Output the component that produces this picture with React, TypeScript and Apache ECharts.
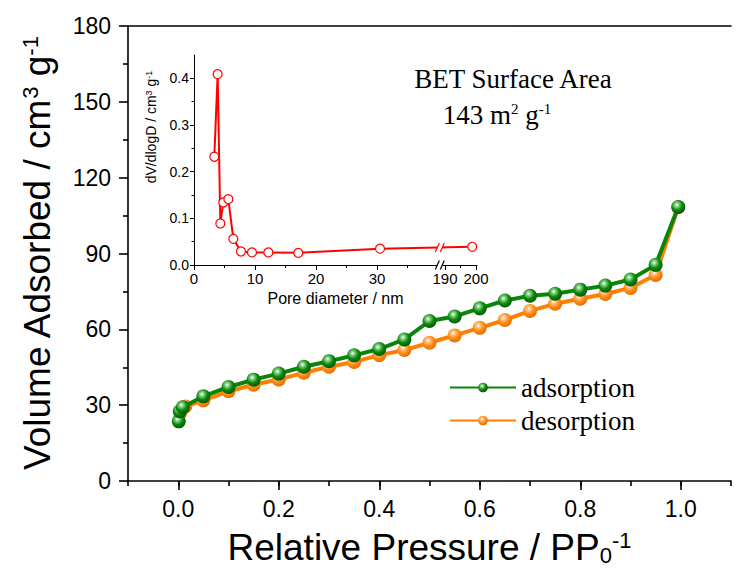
import React, { useEffect, useRef } from "react";
import * as echarts from "echarts";

// ---- main isotherm data ----
const adsX = [0.001, 0.003, 0.009, 0.05, 0.1, 0.15, 0.2, 0.25, 0.3, 0.35, 0.4, 0.45, 0.5, 0.55, 0.6, 0.65, 0.7, 0.75, 0.8, 0.85, 0.9, 0.95, 0.995];
const adsY = [23.6, 27.6, 29.2, 33.5, 37.2, 40.1, 42.5, 45.2, 47.4, 49.7, 52.2, 56.0, 63.3, 65.1, 68.3, 71.4, 73.3, 74.1, 75.7, 77.3, 79.7, 85.5, 108.4];
const desX = [0.995, 0.95, 0.9, 0.85, 0.8, 0.75, 0.7, 0.65, 0.6, 0.55, 0.5, 0.45, 0.4, 0.35, 0.3, 0.25, 0.2, 0.15, 0.1, 0.05, 0.014, 0.004];
const desY = [108.4, 81.5, 76.4, 74.0, 72.1, 70.1, 67.3, 63.7, 60.6, 57.6, 54.7, 51.8, 49.8, 47.1, 45.2, 42.8, 40.2, 38.1, 35.5, 31.9, 29.5, 27.0];

const xMajorTicks = [0, 0.2, 0.4, 0.6, 0.8, 1.0];

// ---- inset pore size distribution ----
const poreD = [3.33, 3.88, 4.32, 4.81, 5.63, 6.45, 7.7, 9.5, 12.2, 17.1, 30.5, 198.8];
const dvdlogd = [0.232, 0.409, 0.089, 0.134, 0.141, 0.056, 0.029, 0.027, 0.027, 0.026, 0.035, 0.039];
const insetXLabels = [0, 10, 20, 30, 190, 200];
const insetXMinor = [5, 15, 25, 35, 195];
const insetYLabels = [0, 0.1, 0.2, 0.3, 0.4];
const insetYMinor = [0.05, 0.15, 0.25, 0.35];

// broken axis: 0..40 linear, then 190..200 compressed
const SEG2_START = 41.15;
const SEG2_SLOPE = 0.508;
const BREAK_U = 40.3;
const U_MAX = 46.4;
const toU = (d: number) => (d <= 40 ? d : SEG2_START + (d - 190) * SEG2_SLOPE);
const fromU = (u: number) => (u <= 40 ? u : 190 + (u - SEG2_START) / SEG2_SLOPE);

const SANS = "'Liberation Sans', Arial, sans-serif";
const SERIF = "'Liberation Serif', 'Times New Roman', serif";

const sphere = (light: string, mid: string, dark: string) => ({
  type: "radial",
  x: 0.4,
  y: 0.35,
  r: 0.7,
  colorStops: [
    { offset: 0, color: "#ffffff" },
    { offset: 0.22, color: light },
    { offset: 0.55, color: mid },
    { offset: 1, color: dark },
  ],
});

export default function App() {
  const ref = useRef<HTMLDivElement>(null);
  useEffect(() => {
    if (!ref.current) return;
    const chart = echarts.init(ref.current, null, { renderer: "svg" });
    const insetData = poreD.map((d, i) => [toU(d), dvdlogd[i]]);
    const axisLineStyle = { color: "#000", width: 1.6 };
    const thin = { color: "#000", width: 1 };
    const option: any = {
      animation: false,
      backgroundColor: "#fff",
      grid: [
        { left: 128, right: 4, top: 26, bottom: 94 },
        { left: 128, right: 4, top: 26, bottom: 94 },
        { left: 194, right: 258, top: 55, bottom: 310 },
        { left: 194, right: 258, top: 55, bottom: 310 },
      ],
      legend: {
        data: ["adsorption", "desorption"],
        orient: "vertical",
        left: 444,
        top: 369,
        itemWidth: 66,
        itemHeight: 12,
        itemGap: 6,
        textStyle: { fontFamily: SERIF, fontSize: 27, color: "#000" },
      },
      xAxis: [
        {
          gridIndex: 0,
          type: "value",
          min: -0.1,
          max: 1.1,
          position: "bottom",
          splitLine: { show: false },
          axisLine: { onZero: false, lineStyle: axisLineStyle },
          axisTick: { customValues: xMajorTicks, length: 9, lineStyle: axisLineStyle },
          axisLabel: {
            customValues: xMajorTicks,
            formatter: (v: number) => v.toFixed(1),
            fontFamily: SANS,
            fontSize: 23,
            color: "#000",
            margin: 16,
          },
          name: "Relative Pressure / PP{sub|0}{sup|-1}",
          nameLocation: "middle",
          nameGap: 48,
          nameTextStyle: {
            fontFamily: SANS,
            fontSize: 37,
            color: "#000",
            rich: {
              sub: { fontFamily: SANS, fontSize: 22, verticalAlign: "bottom", color: "#000" },
              sup: { fontFamily: SANS, fontSize: 22, verticalAlign: "top", color: "#000" },
            },
          },
        },
        {
          gridIndex: 0,
          type: "value",
          min: -0.1,
          max: 1.1,
          position: "top",
          splitLine: { show: false },
          axisLine: { onZero: false, lineStyle: axisLineStyle },
          axisTick: { show: false },
          axisLabel: { show: false },
        },
        {
          gridIndex: 1,
          type: "value",
          min: -0.1,
          max: 1.1,
          interval: 0.1,
          position: "bottom",
          splitLine: { show: false },
          axisLine: { show: false, onZero: false },
          axisTick: { length: 5, lineStyle: axisLineStyle },
          axisLabel: { show: false },
        },
        {
          gridIndex: 2,
          type: "value",
          min: 0,
          max: U_MAX,
          position: "bottom",
          splitLine: { show: false },
          axisLine: { onZero: false, lineStyle: thin },
          axisTick: { customValues: insetXLabels.map(toU), length: 5, lineStyle: thin },
          axisLabel: {
            customValues: insetXLabels.map(toU),
            formatter: (v: number) => String(Math.round(fromU(v))),
            fontFamily: SANS,
            fontSize: 15,
            color: "#000",
            margin: 6,
          },
          name: "Pore diameter / nm",
          nameLocation: "middle",
          nameGap: 25,
          nameTextStyle: { fontFamily: SANS, fontSize: 16, color: "#000" },
        },
        {
          gridIndex: 3,
          type: "value",
          min: 0,
          max: U_MAX,
          position: "bottom",
          splitLine: { show: false },
          axisLine: { show: false, onZero: false },
          axisTick: { customValues: insetXMinor.map(toU), length: 3, lineStyle: thin },
          axisLabel: { show: false },
        },
      ],
      yAxis: [
        {
          gridIndex: 0,
          type: "value",
          min: 0,
          max: 180,
          interval: 30,
          position: "left",
          splitLine: { show: false },
          axisLine: { show: true, onZero: false, lineStyle: axisLineStyle },
          axisTick: { show: true, length: 9, lineStyle: axisLineStyle },
          minorTick: { show: true, splitNumber: 2, length: 5, lineStyle: axisLineStyle },
          axisLabel: {
            fontFamily: SANS,
            fontSize: 23,
            color: "#000",
            margin: 17,
          },
          name: "Volume Adsorbed / cm{sup|3} g{sup|-1}",
          nameLocation: "middle",
          nameGap: 72,
          nameTextStyle: {
            fontFamily: SANS,
            fontSize: 37,
            color: "#000",
            rich: {
              sup: { fontFamily: SANS, fontSize: 22, verticalAlign: "top", color: "#000" },
            },
          },
        },
        {
          gridIndex: 1,
          type: "value",
          min: 0,
          max: 180,
          position: "left",
          show: false,
          axisLine: { show: false, onZero: false },
        },
        {
          gridIndex: 2,
          type: "value",
          min: 0,
          max: 0.45,
          position: "left",
          splitLine: { show: false },
          axisLine: { show: true, onZero: false, lineStyle: thin },
          axisTick: { show: true, customValues: insetYLabels, length: 4, lineStyle: thin },
          axisLabel: {
            customValues: insetYLabels,
            formatter: (v: number) => v.toFixed(1),
            fontFamily: SANS,
            fontSize: 14,
            color: "#000",
            margin: 5,
          },
          name: "dV/dlogD / cm{sup|3} g{sup|-1}",
          nameLocation: "middle",
          nameGap: 36,
          nameTextStyle: {
            fontFamily: SANS,
            fontSize: 14,
            color: "#000",
            padding: [0, 0, 0, 66],
            rich: {
              sup: { fontFamily: SANS, fontSize: 9, verticalAlign: "top", color: "#000" },
            },
          },
        },
        {
          gridIndex: 3,
          type: "value",
          min: 0,
          max: 0.45,
          position: "left",
          splitLine: { show: false },
          axisLine: { show: false, onZero: false },
          axisTick: { show: true, customValues: insetYMinor, length: 2.5, lineStyle: thin },
          axisLabel: { show: false },
        },
      ],
      series: [
        {
          name: "desorption",
          type: "line",
          xAxisIndex: 0,
          yAxisIndex: 0,
          data: desX.map((x, i) => [x, desY[i]]),
          symbol: "circle",
          symbolSize: 14,
          lineStyle: { color: "#ff8000", width: 4 },
          itemStyle: { color: sphere("#ffc080", "#ff8a10", "#e06a00") },
          z: 2,
        },
        {
          name: "adsorption",
          type: "line",
          xAxisIndex: 0,
          yAxisIndex: 0,
          data: adsX.map((x, i) => [x, adsY[i]]),
          symbol: "circle",
          symbolSize: 14,
          lineStyle: { color: "#0a850a", width: 4 },
          itemStyle: { color: sphere("#7fcf7f", "#0a8a0a", "#045004") },
          z: 3,
        },
        {
          name: "psd",
          type: "line",
          xAxisIndex: 3,
          yAxisIndex: 2,
          data: insetData,
          symbol: "circle",
          symbolSize: 9,
          lineStyle: { color: "#ff0000", width: 2 },
          itemStyle: { color: "#ffffff", borderColor: "#ff0000", borderWidth: 1.2 },
          z: 4,
        },
      ],
      graphic: [
        {
          type: "text",
          x: 513,
          y: 79,
          style: {
            text: "BET Surface Area",
            fontFamily: SERIF,
            fontSize: 27,
            fill: "#000",
            align: "center",
            verticalAlign: "middle",
          },
        },
        {
          type: "text",
          x: 497,
          y: 115,
          style: {
            text: "143 m{sup|2} g{sup|-1}",
            fontFamily: SERIF,
            fontSize: 27,
            fill: "#000",
            align: "center",
            verticalAlign: "middle",
            rich: {
              sup: { fontFamily: SERIF, fontSize: 15, verticalAlign: "top", fill: "#000" },
            },
          },
        },
      ],
    };
    chart.setOption(option);

    // broken-axis marks on the inset
    const i0 = 10;
    const a = insetData[i0];
    const b = insetData[i0 + 1];
    const yAt = a[1] + ((BREAK_U - a[0]) / (b[0] - a[0])) * (b[1] - a[1]);
    const pAxis = chart.convertToPixel({ xAxisIndex: 3, yAxisIndex: 2 }, [BREAK_U, 0]) as number[];
    const pLine = chart.convertToPixel({ xAxisIndex: 3, yAxisIndex: 2 }, [BREAK_U, yAt]) as number[];
    const breakMark = (p: number[], color: string) => ({
      type: "group",
      z: 100,
      children: [
        { type: "rect", shape: { x: p[0] - 2.5, y: p[1] - 4, width: 5, height: 8 }, style: { fill: "#fff" }, z: 100 },
        { type: "line", shape: { x1: p[0] - 4.5, y1: p[1] + 4.5, x2: p[0] - 0.5, y2: p[1] - 4.5 }, style: { stroke: color, lineWidth: 1.2 }, z: 101 },
        { type: "line", shape: { x1: p[0] + 0.5, y1: p[1] + 4.5, x2: p[0] + 4.5, y2: p[1] - 4.5 }, style: { stroke: color, lineWidth: 1.2 }, z: 101 },
      ],
    });
    chart.setOption({
      graphic: [...option.graphic, breakMark(pAxis, "#000"), breakMark(pLine, "#ff0000")],
    });

    return () => chart.dispose();
  }, []);
  return (
    <div
      ref={ref}
      style={{ position: "fixed", left: 0, top: 0, width: 735, height: 575 }}
    />
  );
}
